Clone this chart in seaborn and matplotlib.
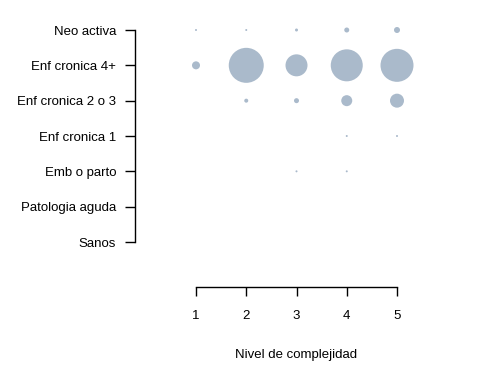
import numpy as np
import pandas as pd
import seaborn as sns
import matplotlib.pyplot as plt

# categories (bottom to top on the y axis)
categorias = ['Sanos', 'Patologia aguda', 'Emb o parto', 'Enf cronica 1',
              'Enf cronica 2 o 3', 'Enf cronica 4+', 'Neo activa']
niveles = [1, 2, 3, 4, 5]

# counts per category and complexity level (bubble area ~ count)
sanos = [0, 0, 0, 0, 0]
patologia_aguda = [0, 0, 0, 0, 0]
emb_parto = [0, 0, 4, 4, 0]
enf_cronica_1 = [0, 0, 0, 4, 4]
enf_cronica_2_3 = [0, 16, 25, 121, 196]
enf_cronica_4 = [64, 1225, 484, 1024, 1089]
neo_activa = [4, 4, 9, 25, 36]

filas = [sanos, patologia_aguda, emb_parto, enf_cronica_1,
         enf_cronica_2_3, enf_cronica_4, neo_activa]

rows = []
for i, vals in enumerate(filas):
    for nivel, v in zip(niveles, vals):
        if v > 0:
            rows.append({'nivel': nivel, 'cat': i, 'n': v})
df = pd.DataFrame(rows)

W, H = 480, 383
fig = plt.figure(figsize=(W / 100, H / 100), dpi=100)
plt.rcParams['font.family'] = ['Liberation Sans', 'DejaVu Sans']

left, right, top, bottom = 135, 457, 15, 287
ax = fig.add_axes([left / W, (H - bottom) / H, (right - left) / W, (bottom - top) / H])

pxu_x = (397 - 196) / 4
pxu_y = (242 - 30) / 6
ax.set_xlim(1 - (196 - left) / pxu_x, 5 + (right - 397) / pxu_x)
ax.set_ylim(0 - (bottom - 242) / pxu_y, 6 + (30 - top) / pxu_y)

# area in px^2 -> points^2
k = 0.72 ** 2
vmax = df['n'].max()
sns.scatterplot(data=df, x='nivel', y='cat', size='n', sizes=(0, vmax * k),
                size_norm=(0, vmax), color='#aabacb', edgecolor='none',
                linewidth=0, legend=False, ax=ax, alpha=1)

for s in ['top', 'right']:
    ax.spines[s].set_visible(False)
ax.spines['left'].set_bounds(0, 6)
ax.spines['bottom'].set_bounds(1, 5)
ax.spines['left'].set_linewidth(1)
ax.spines['bottom'].set_linewidth(1)

ax.set_xticks(niveles)
ax.set_xticklabels([str(n) for n in niveles])
ax.set_yticks(range(len(categorias)))
ax.set_yticklabels(categorias)
ax.tick_params(axis='x', length=6.5, width=1, pad=10, labelsize=9.5)
ax.tick_params(axis='y', length=7.5, width=1, pad=6, labelsize=9.5)

ax.set_ylabel('')
ax.set_xlabel('Nivel de complejidad', fontsize=9.5)
ax.xaxis.set_label_coords(0.5, -(349 - bottom) / (bottom - top))
ax.xaxis.label.set_va('top')

fig.savefig('out.png', dpi=100)
